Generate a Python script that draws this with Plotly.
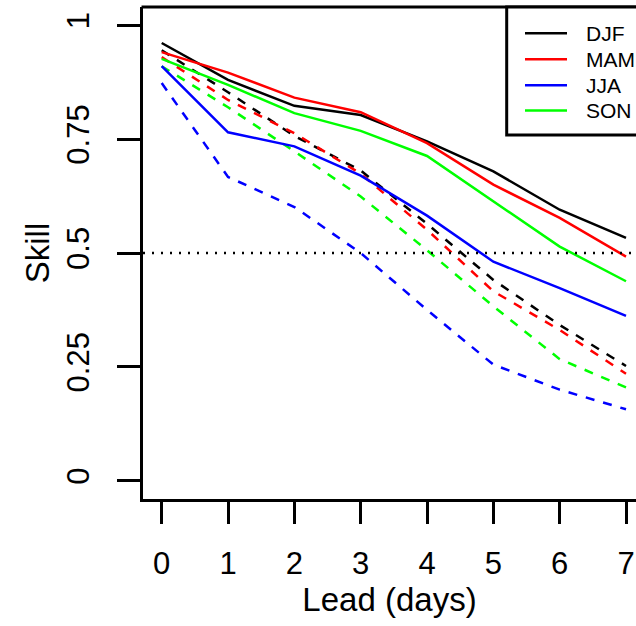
import plotly.graph_objects as go

lead = [0, 1, 2, 3, 4, 5, 6, 7]
seasons = ["DJF", "MAM", "JJA", "SON"]
colors = ["#000000", "#FF0000", "#0000FF", "#00FF00"]

# solid lines
djf_solid = [0.961, 0.880, 0.823, 0.803, 0.745, 0.679, 0.595, 0.533]
mam_solid = [0.941, 0.896, 0.841, 0.809, 0.741, 0.650, 0.577, 0.492]
jja_solid = [0.910, 0.765, 0.734, 0.670, 0.582, 0.481, 0.423, 0.362]
son_solid = [0.926, 0.869, 0.807, 0.768, 0.713, 0.613, 0.514, 0.438]

# dashed lines
djf_dash = [0.945, 0.853, 0.757, 0.681, 0.564, 0.441, 0.342, 0.252]
mam_dash = [0.930, 0.836, 0.763, 0.674, 0.551, 0.416, 0.331, 0.235]
jja_dash = [0.873, 0.667, 0.601, 0.500, 0.375, 0.255, 0.200, 0.157]
son_dash = [0.910, 0.820, 0.723, 0.624, 0.506, 0.383, 0.267, 0.205]

y_ticks = [0, 0.25, 0.5, 0.75, 1]
y_tick_labels = ["0", "0.25", "0.5", "0.75", "1"]

solids = [djf_solid, mam_solid, jja_solid, son_solid]
dashes = [djf_dash, mam_dash, jja_dash, son_dash]

FONT = "Liberation Sans, Arial, Helvetica, sans-serif"

fig = go.Figure()
for name, col, ys in zip(seasons, colors, dashes):
    fig.add_trace(go.Scatter(x=lead, y=ys, mode="lines", name=name + " (dashed)",
                             line=dict(color=col, width=2.5, dash="9px,9px"),
                             showlegend=False))
for name, col, ys in zip(seasons, colors, solids):
    fig.add_trace(go.Scatter(x=lead, y=ys, mode="lines", name=name,
                             line=dict(color=col, width=2.5),
                             showlegend=False))

# plot geometry (pixels)
W, H = 636, 626
L, T, B = 143, 7, 127
plot_w = W - L
plot_h = H - T - B
px_per_day = 66.33
x0_px = 161.7 - L
x_lo = -x0_px / px_per_day
x_hi = x_lo + plot_w / px_per_day


def px_x(p):
    return (p - L) / plot_w


def px_y(p):
    return (H - B - p) / plot_h


shapes = [
    # top border of box
    dict(type="line", xref="paper", yref="paper", x0=-0.003, x1=1.1, y0=1, y1=1,
         line=dict(color="black", width=3)),
    # dotted reference line at 0.5
    dict(type="line", xref="paper", yref="y", x0=0, x1=1, y0=0.5, y1=0.5,
         line=dict(color="black", width=2.5, dash="2px,7px")),
    # legend box
    dict(type="rect", xref="paper", yref="paper", x0=px_x(506.7), x1=1.1,
         y0=px_y(135), y1=1, line=dict(color="black", width=3), fillcolor="white",
         layer="above"),
]
annotations = []
leg_y = [33.3, 59.3, 85.3, 110.5]
for name, col, py in zip(seasons, colors, leg_y):
    shapes.append(dict(type="line", xref="paper", yref="paper",
                       x0=px_x(525), x1=px_x(567), y0=px_y(py), y1=px_y(py),
                       line=dict(color=col, width=2.5), layer="above"))
    annotations.append(dict(xref="paper", yref="paper", x=px_x(584), y=px_y(py),
                            text=name, showarrow=False, xanchor="left", yanchor="middle",
                            font=dict(family=FONT, size=21, color="black")))

fig.update_layout(
    width=W, height=H,
    margin=dict(l=L, r=0, t=T, b=B, pad=0),
    plot_bgcolor="white", paper_bgcolor="white",
    font=dict(family=FONT, color="black"),
    shapes=shapes,
    annotations=annotations,
    xaxis=dict(range=[x_lo, x_hi], tickvals=lead, ticktext=[str(v) for v in lead],
               showgrid=False, zeroline=False, showline=True, linecolor="black",
               linewidth=3, ticks="outside", ticklen=22, tickwidth=3, tickcolor="black",
               tickfont=dict(size=31), ticklabelstandoff=13,
               title=dict(text="Lead (days)", font=dict(size=33), standoff=6)),
    yaxis=dict(range=[-0.04, 1.04], tickvals=y_ticks, ticktext=y_tick_labels,
               showgrid=False, zeroline=False, showline=True, linecolor="black",
               linewidth=3, ticks="outside", ticklen=23, tickwidth=3, tickcolor="black",
               tickfont=dict(size=31), tickangle=-90, ticklabelstandoff=16,
               title=dict(text="Skill", font=dict(size=33), standoff=2)),
)

fig.write_html("out.html",
               config={"displayModeBar": False},
               post_script="document.body.style.margin='0';"
                           "document.body.style.overflow='hidden';")
